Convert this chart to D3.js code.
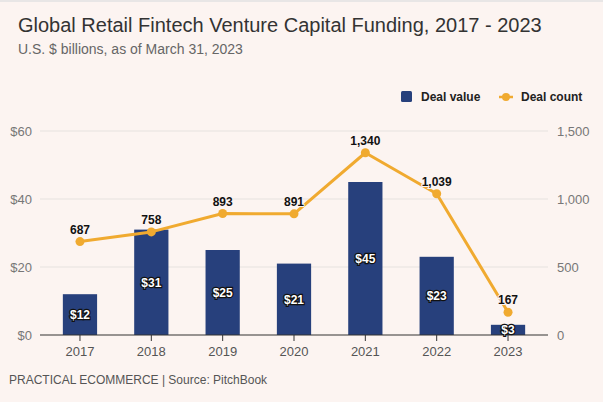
<!DOCTYPE html>
<html><head><meta charset="utf-8">
<script src="https://cdn.jsdelivr.net/npm/d3@7"></script>
<style>body{margin:0;background:#fff}svg{display:block;font-family:"Liberation Sans",Arial,sans-serif}</style>
</head><body><svg id="c" width="603" height="405"></svg>
<script>
const years = ["2017","2018","2019","2020","2021","2022","2023"];
const dealValue = [12, 31, 25, 21, 45, 23, 3];
const dealCount = [687, 758, 893, 891, 1340, 1039, 167];
const leftTicks = [0, 20, 40, 60];
const rightTicks = [0, 500, 1000, 1500];

const svg = d3.select("#c");
const bg = "#fcf4f1", barColor = "#27407c", lineColor = "#f0aa30";
svg.append("rect").attr("x",0).attr("y",0).attr("width",603).attr("height",402).attr("fill",bg);
svg.append("line").attr("x1",0).attr("x2",603).attr("y1",1).attr("y2",1).attr("stroke","#e2e2e2").attr("stroke-width",1.5);

svg.append("text").attr("x",18).attr("y",32).attr("font-size",20).attr("fill","#333").text("Global Retail Fintech Venture Capital Funding, 2017 - 2023");
svg.append("text").attr("x",18).attr("y",54).attr("font-size",14).attr("fill","#666").text("U.S. $ billions, as of March 31, 2023");
svg.append("text").attr("x",9).attr("y",384).attr("font-size",12).attr("fill","#555").text("PRACTICAL ECOMMERCE | Source: PitchBook");

// legend
svg.append("rect").attr("x",401).attr("y",91).attr("width",11).attr("height",11).attr("rx",1.5).attr("fill",barColor);
svg.append("text").attr("x",421).attr("y",101).attr("font-size",12).attr("font-weight","bold").attr("fill","#222").text("Deal value");
svg.append("line").attr("x1",499).attr("x2",513).attr("y1",97).attr("y2",97).attr("stroke",lineColor).attr("stroke-width",2.5);
svg.append("circle").attr("cx",506).attr("cy",97).attr("r",4).attr("fill",lineColor);
svg.append("text").attr("x",521).attr("y",101).attr("font-size",12).attr("font-weight","bold").attr("fill","#222").text("Deal count");

const x0 = 44.3, x1 = 543.7, yTop = 131, yBot = 335;
const x = d3.scaleBand().domain(years).range([x0, x1]).paddingInner(0.52).paddingOuter(0.26);
const xp = d3.scalePoint().domain(years).range([x0, x1]).padding(0.5);
const yL = d3.scaleLinear().domain([0,60]).range([yBot, yTop]);
const yR = d3.scaleLinear().domain([0,1500]).range([yBot, yTop]);

// grid
svg.append("g").selectAll("line").data(leftTicks.slice(1)).join("line")
  .attr("x1",40).attr("x2",548).attr("y1",d=>yL(d)).attr("y2",d=>yL(d))
  .attr("stroke","#e6e2df").attr("stroke-width",1);

// left axis labels
svg.append("g").selectAll("text").data(leftTicks).join("text")
  .attr("x",32).attr("y",d=>yL(d)+5).attr("text-anchor","end").attr("font-size",13).attr("fill","#777")
  .text(d=>"$"+d);
svg.append("g").selectAll("text").data(rightTicks).join("text")
  .attr("x",557).attr("y",d=>yR(d)+5).attr("text-anchor","start").attr("font-size",13).attr("fill","#777")
  .text(d=>d3.format(",")(d));

// bars
svg.append("g").selectAll("rect").data(dealValue).join("rect")
  .attr("x",(d,i)=>x(years[i])).attr("width",x.bandwidth())
  .attr("y",d=>yL(d)).attr("height",d=>yBot-yL(d)).attr("fill",barColor);

// x axis
svg.append("line").attr("x1",40).attr("x2",548).attr("y1",yBot).attr("y2",yBot).attr("stroke","#333").attr("stroke-width",1.2);
svg.append("g").selectAll("line").data(years).join("line")
  .attr("x1",d=>xp(d)).attr("x2",d=>xp(d)).attr("y1",yBot).attr("y2",yBot+6).attr("stroke","#333");
svg.append("g").selectAll("text").data(years).join("text")
  .attr("x",d=>xp(d)).attr("y",yBot+21).attr("text-anchor","middle").attr("font-size",13).attr("fill","#555").text(d=>d);

// bar labels
svg.append("g").selectAll("text").data(dealValue).join("text")
  .attr("x",(d,i)=>xp(years[i])).attr("y",d=>(yL(d)+yBot)/2+4.5)
  .attr("text-anchor","middle").attr("font-size",12).attr("font-weight","bold")
  .attr("fill","#fff").attr("stroke","#111").attr("stroke-width",2.5).attr("paint-order","stroke")
  .text(d=>"$"+d);

// line
const line = d3.line().x((d,i)=>xp(years[i])).y(d=>yR(d));
svg.append("path").datum(dealCount).attr("d",line).attr("fill","none").attr("stroke",lineColor).attr("stroke-width",3).attr("stroke-linejoin","round");
svg.append("g").selectAll("circle").data(dealCount).join("circle")
  .attr("cx",(d,i)=>xp(years[i])).attr("cy",d=>yR(d)).attr("r",4.5).attr("fill",lineColor);
svg.append("g").selectAll("text").data(dealCount).join("text")
  .attr("x",(d,i)=>xp(years[i])).attr("y",d=>yR(d)-8)
  .attr("text-anchor","middle").attr("font-size",12).attr("font-weight","bold").attr("fill","#111")
  .attr("stroke",bg).attr("stroke-width",2).attr("paint-order","stroke")
  .text(d=>d3.format(",")(d));
</script></body></html>
